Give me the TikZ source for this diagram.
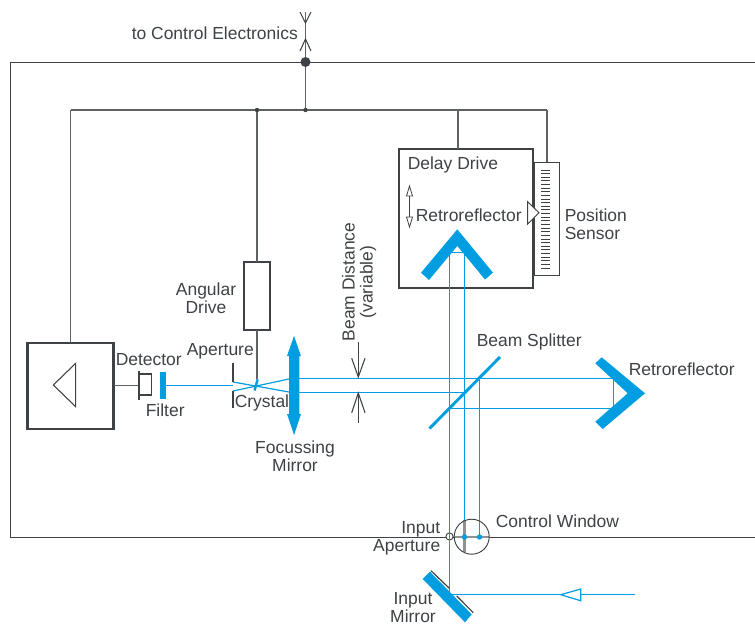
\documentclass[tikz,border=0pt]{standalone}
\usepackage{fontspec}
\setmainfont{Liberation Sans}
\definecolor{beamblue}{RGB}{0,158,224}
\definecolor{inkgrey}{RGB}{62,66,70}
\definecolor{wiregrey}{RGB}{95,98,101}
\tikzset{
  lbl/.style={anchor=north west,inner sep=0.75pt,text=inkgrey,font=\fontsize{13.1}{13.5}\selectfont},
  housing/.style={draw=inkgrey,line width=1.9pt,outer sep=0pt,inner sep=0pt},
  wire/.style={color=wiregrey,line width=0.8pt},
  thinwire/.style={color=inkgrey,line width=0.6pt},
  beam/.style={color=beamblue,line width=1pt},
  optic/.style={fill=beamblue,draw=none},
  junction/.style={fill=inkgrey,draw=none},
}
\begin{document}
\begin{tikzpicture}[x=0.75pt,y=0.75pt,yscale=-1,xscale=1]
\useasboundingbox (0,0) rectangle (755,625);

%Named points of the wiring
\coordinate (topend) at (305.5,12);
\coordinate (mainjunc) at (305.5,62);
\coordinate (busjunc) at (305.5,110);
\coordinate (busleft) at (70.5,110);
\coordinate (angjunc) at (257,110);
\coordinate (delayjunc) at (458,110);
\coordinate (busright) at (547,110);
\coordinate (crystaltop) at (257,379);

%Boxes
\node (delaybox) [housing,minimum width=100.5pt,minimum height=104.25pt] at (466,218.5) {};
\node (sensorbox) [draw=inkgrey,line width=0.6pt,outer sep=0pt,minimum width=18.75pt,minimum height=84.75pt] at (546.5,218.5) {};
\node (drivebox) [housing,minimum width=19.5pt,minimum height=51pt] at (257,296) {};
\node (ampbox) [housing,minimum width=64.5pt,minimum height=64.5pt] at (70.5,386) {};

%Housing outline
\draw [color=inkgrey,line width=0.7pt] (755,62) -- (10,62) -- (10,537) -- (755,537) ;

%Wiring
\draw [wire] (topend) -- (busjunc) ;
\draw [wire] (busleft) -- (busright) ;
\draw [wire] (busleft) -- (ampbox.north) ;
\draw [wire] (angjunc) -- (drivebox.north) ;
\draw [wire] (drivebox.south) -- (crystaltop) ;
\draw [wire] (delayjunc) -- (delayjunc |- delaybox.north) ;
\draw [wire] (busright) -- (busright |- sensorbox.north) ;
\fill [junction] (mainjunc) circle (5) ;
\fill [junction] (angjunc) circle (2.2) ;
\fill [junction] (busjunc) circle (2.2) ;
%Signal arrows
\draw [thinwire,line width=0.8pt] (300,12) -- (305.5,23) -- (311,12) ;
\draw [thinwire,line width=0.8pt] (300,51) -- (305.5,39) -- (311,51) ;

%Amplifier symbol
\draw [color=inkgrey,line width=0.8pt] (75.7,363.3) -- (53.3,385) -- (75.7,406.7) -- cycle ;

%Position scale
\foreach \i in {0,...,27}
  \draw [color=inkgrey,line width=0.7pt] (541,170+\i*3.63) -- (550,170+\i*3.63) ;
\draw [color=inkgrey,line width=0.7pt,fill=white] (527.7,201.7) -- (539,212.8) -- (527.7,224) -- cycle ;
%Travel arrow
\draw [thinwire] (409.5,192) -- (409.5,221) ;
\draw [thinwire,fill=white] (409.5,186) -- (412.5,196) -- (406.5,196) -- cycle ;
\draw [thinwire,fill=white] (409.5,227) -- (412.5,217) -- (406.5,217) -- cycle ;

%Beams
\coordinate (inend) at (635,594.7);
\coordinate (inmirror) at (449.5,594.7);
\coordinate (retroA) at (449.5,252.7);
\coordinate (retroB) at (464.5,252.7);
\coordinate (windowB) at (464.5,537);
\coordinate (windowC) at (479.5,537);
\coordinate (cornerA) at (613.3,378.3);
\coordinate (cornerB) at (613.3,408.3);
\draw [beam] (inend) -- (inmirror) -- (retroA) -- (retroB) -- (windowB) ;
\draw [beam] (294,378.3) -- (cornerA) -- (cornerB) -- (449.5,408.3) ;
\draw [beam] (479.5,378.3) -- (windowC) ;
\draw [beam] (294,392.8) -- (464.5,392.8) ;
\draw [beam,line width=0.9pt] (289,379) -- (233,391) ;
\draw [beam,line width=0.9pt] (289,392) -- (233,382) ;
\draw [beam,line width=1.05pt] (233,385.5) -- (166,385.5) ;
\draw [wire] (ampbox.east |- 0,385.5) -- (139,385.5) ;

%Detector
\draw [color=inkgrey,line width=1.5pt] (139,370.7) -- (139,400) ;
\draw [color=inkgrey,line width=1.4pt] (139,374) -- (151.5,374) -- (151.5,395) -- (139,395) ;
%Filter
\fill [optic] (160,371.7) rectangle (166,399) ;
%Aperture
\draw [color=inkgrey,line width=1.3pt] (232.7,362.7) -- (232.7,382) ;
\draw [color=inkgrey,line width=1.3pt] (232.7,391) -- (232.7,408) ;
%Crystal
\draw [color=beamblue,line width=1.8pt] (257.6,379.3) -- (254.6,390.5) ;
%Focussing mirror
\fill [optic] (294,336) -- (301,356) -- (299.3,356) -- (299.3,414) -- (301,414) -- (294,435) -- (287,414) -- (289,414) -- (289,356) -- (287,356) -- cycle ;
%Beam splitter
\draw [color=beamblue,line width=2.2pt] (429.5,428.5) -- (500,357) ;
%Retroreflector in the delay drive
\fill [optic] (457.3,229.3) -- (493,272.7) -- (485,279.5) -- (457.3,246) -- (429,280) -- (421,272.7) -- cycle ;
%Fixed retroreflector
\fill [optic] (645,393.3) -- (602.7,429) -- (595.3,421.7) -- (627.7,393.3) -- (595.3,363.3) -- (601.7,357.3) -- cycle ;
%Input mirror
\fill [optic] (430,571.7) -- (471.7,614.3) -- (465,622.3) -- (422.7,579) -- cycle ;
\draw [thinwire,line width=0.9pt] (431,570.7) -- (449.3,588.3) ;
\draw [thinwire,line width=0.9pt] (456.7,596) -- (473.3,612.7) ;
%Input arrow
\draw [color=beamblue,line width=0.9pt,fill=white] (560.7,594.7) -- (580.7,589) -- (580.7,600.7) -- cycle ;

%Beam distance marks
\draw [thinwire,line width=0.8pt] (358.3,342) -- (358.3,377) ;
\draw [thinwire,line width=0.8pt] (351.7,358.3) -- (358.3,377) -- (365,358.3) ;
\draw [thinwire,line width=0.8pt] (358.3,393) -- (358.3,422.7) ;
\draw [thinwire,line width=0.8pt] (351.7,412.7) -- (358.3,393) -- (365,412.7) ;

%Control window
\draw [color=wiregrey!70,line width=2.2pt] (464.5,520) -- (464.5,552) ;
\draw [color=wiregrey!70,line width=2.2pt] (455,537) -- (489,537) ;
\draw [thinwire,line width=0.7pt] (471.7,536.7) circle (17.5) ;
\fill [beamblue] (windowB) circle (2.7) ;
\fill [beamblue] (windowC) circle (2.7) ;
%Input aperture
\draw [thinwire,line width=0.7pt,fill=white] (449.5,536.5) circle (3.6) ;
\draw [beam] (449.5,530) -- (449.5,543) ;

% Text Node
\node (ctrllbl) [lbl] at (130.5,26) {to Control Electronics};
\node (delaylbl) [lbl] at (406.5,156) {Delay Drive};
\node (retroinlbl) [lbl] at (414.5,208) {Retroreflector};
\node (sensorlbl) [lbl,align=left] at (563.5,208) {Position\\Sensor};
\node (distlbl) [lbl,anchor=center,align=center,rotate=90] at (359,282) {Beam Distance\\(variable)};
\node (splitlbl) [lbl] at (475.5,333) {Beam Splitter};
\node (retrolbl) [lbl] at (627.5,362) {Retroreflector};
\node (drivelbl) [lbl,anchor=north,align=center] at (206,282) {Angular\\Drive};
\node (detlbl) [lbl] at (114.5,352) {Detector};
\node (aperlbl) [lbl] at (185.5,342) {Aperture};
\node (filtlbl) [lbl] at (144.5,403) {Filter};
\node (crystlbl) [lbl] at (233.5,394) {Crystal};
\node (focuslbl) [lbl,anchor=north,align=center] at (295,440) {Focussing\\Mirror};
\node (inaperlbl) [lbl,anchor=north east,align=right] at (441.5,520) {Input\\Aperture};
\node (windowlbl) [lbl] at (494.5,514) {Control Window};
\node (inmirlbl) [lbl,anchor=north,align=center] at (413,591) {Input\\Mirror};

\end{tikzpicture}
\end{document}
